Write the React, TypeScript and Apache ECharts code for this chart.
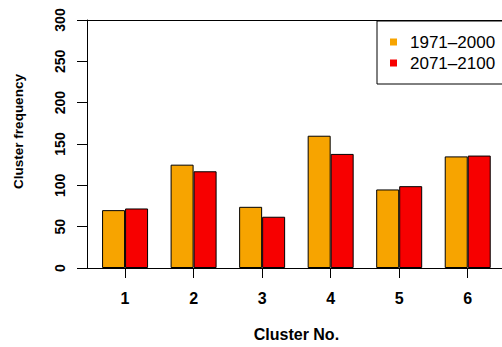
import React, { useEffect, useRef } from "react";
import * as echarts from "echarts";

const categories = ["1", "2", "3", "4", "5", "6"];
const period1Values = [70, 125, 74, 160, 95, 135];
const period2Values = [72, 117, 62, 138, 99, 136];
const seriesNames = ["1971\u20132000", "2071\u20132100"];
const seriesColors = ["#F7A400", "#F70000"];
const yMin = 0;
const yMax = 300;
const yInterval = 50;

const FONT = "'Liberation Sans', Arial, Helvetica, sans-serif";

export default function App() {
  const ref = useRef<HTMLDivElement>(null);
  useEffect(() => {
    document.body.style.margin = "0";
    if (!ref.current) return;
    const chart = echarts.init(ref.current, null, { renderer: "svg" });
    const refLineStyle = { color: "#000", width: 1, type: "solid" as const };
    chart.setOption({
      animation: false,
      backgroundColor: "#fff",
      textStyle: { fontFamily: FONT },
      grid: { left: 90.8, right: -2.8, top: 20, bottom: 79, containLabel: false },
      legend: {
        left: 377,
        top: 21,
        orient: "vertical",
        data: seriesNames,
        icon: "rect",
        itemWidth: 7,
        itemHeight: 7,
        itemGap: 4,
        itemStyle: { borderWidth: 0 },
        padding: [12.5, 20, 12.5, 13],
        borderColor: "#000",
        borderWidth: 1,
        backgroundColor: "#fff",
        borderRadius: 0,
        textStyle: { fontSize: 17, color: "#000", fontFamily: FONT, padding: [0, 0, 0, 8] },
      },
      xAxis: {
        type: "category",
        data: categories,
        name: "Cluster No.",
        nameLocation: "middle",
        nameGap: 58,
        nameTextStyle: { fontSize: 16, fontWeight: "bold", color: "#000", fontFamily: FONT },
        axisLine: { show: true, lineStyle: { color: "#000", width: 1 } },
        axisTick: { show: true, alignWithLabel: true, length: 10, lineStyle: { color: "#000" } },
        axisLabel: { margin: 22, fontSize: 16, fontWeight: "bold", color: "#000", fontFamily: FONT },
        splitLine: { show: false },
      },
      yAxis: {
        type: "value",
        min: yMin,
        max: yMax,
        interval: yInterval,
        offset: 3.8,
        name: "Cluster frequency",
        nameLocation: "middle",
        nameGap: 62,
        nameTextStyle: {
          fontSize: 13.5,
          fontWeight: "bold",
          color: "#000",
          fontFamily: FONT,
          padding: [0, 0, 0, 25],
        },
        axisLine: { show: true, lineStyle: { color: "#000", width: 1 } },
        axisTick: { show: true, length: 10, lineStyle: { color: "#000" } },
        axisLabel: { rotate: 90, margin: 20, fontSize: 14, fontWeight: "bold", color: "#000", fontFamily: FONT },
        splitLine: { show: false },
      },
      series: [
        {
          name: seriesNames[0],
          type: "bar",
          data: period1Values,
          barWidth: 23,
          barGap: "0%",
          itemStyle: { color: seriesColors[0], borderColor: "#000", borderWidth: 1 },
          markLine: {
            silent: true,
            symbol: ["none", "none"],
            label: { show: false },
            lineStyle: refLineStyle,
            data: [
              [{ x: 77, yAxis: yMin }, { x: 502, yAxis: yMin }],
              [{ x: 77, yAxis: yMax }, { x: 502, yAxis: yMax }],
            ],
          },
        },
        {
          name: seriesNames[1],
          type: "bar",
          data: period2Values,
          barWidth: 23,
          barGap: "0%",
          itemStyle: { color: seriesColors[1], borderColor: "#000", borderWidth: 1 },
        },
      ],
    });
    return () => chart.dispose();
  }, []);
  return (
    <div
      ref={ref}
      style={{ position: "fixed", left: 0, top: 0, width: 502, height: 347 }}
    />
  );
}
